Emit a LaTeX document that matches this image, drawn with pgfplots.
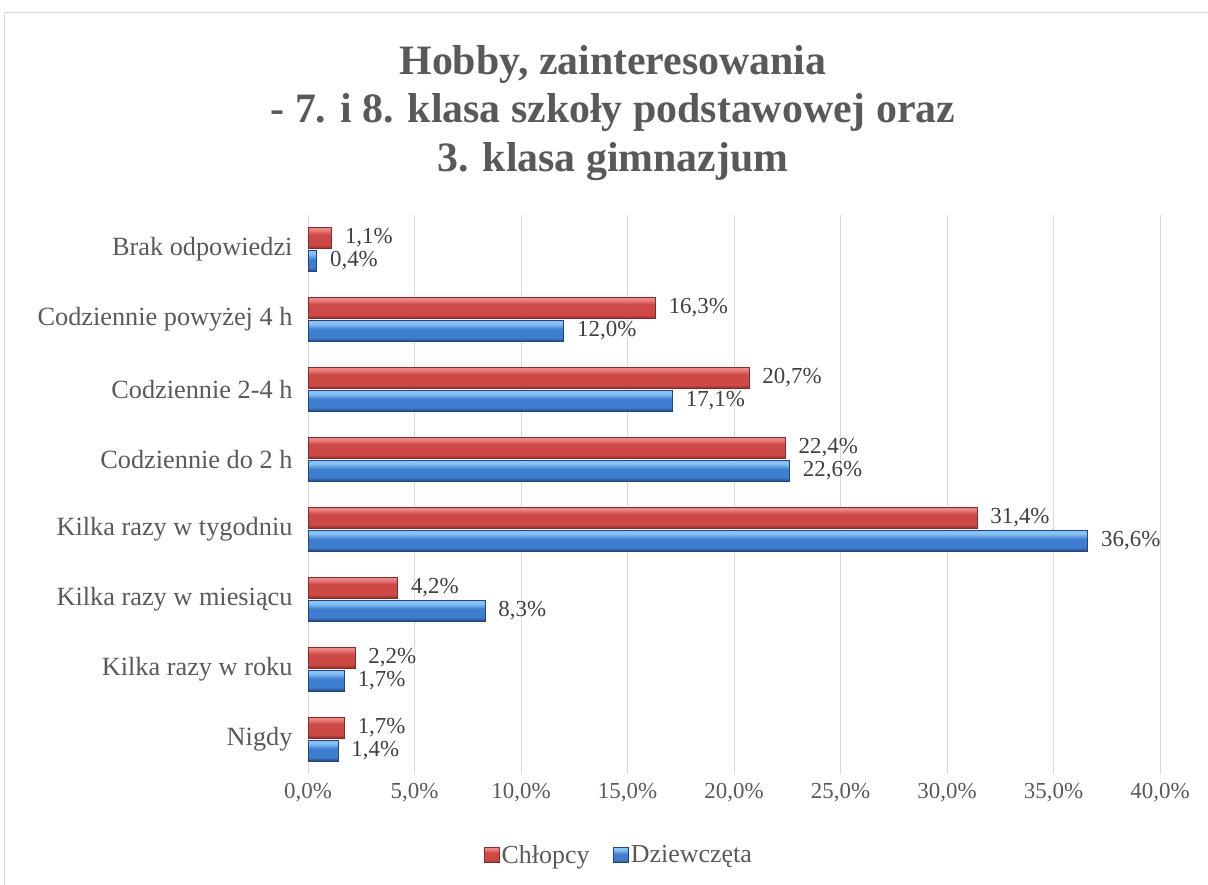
\documentclass[border=0pt]{standalone}
\usepackage{pgfplots}
\pgfplotsset{compat=1.18}
\usepackage{fontspec}
\setmainfont{Liberation Serif}
\definecolor{gridc}{HTML}{D9D9D9}
\definecolor{txt}{HTML}{595959}
\definecolor{lbl}{HTML}{404040}
\definecolor{redT}{HTML}{EC8583}
\definecolor{redM}{HTML}{CC4946}
\definecolor{redB}{HTML}{8A2A27}
\definecolor{blueT}{HTML}{86C2F6}
\definecolor{blueM}{HTML}{3E7ECE}
\definecolor{blueB}{HTML}{22467A}
\pgfdeclareverticalshading{redshade}{100bp}{color(0bp)=(redB); color(25bp)=(redB); color(33bp)=(redM); color(58bp)=(redM); color(70bp)=(redT); color(75bp)=(redT); color(100bp)=(redT)}
\pgfdeclareverticalshading{blueshade}{100bp}{color(0bp)=(blueB); color(25bp)=(blueB); color(34bp)=(blueM); color(54bp)=(blueM); color(67bp)=(blueT); color(75bp)=(blueT); color(100bp)=(blueT)}
\pgfplotsset{
  redbar/.style={bar shift=11.5bp, draw=redB, line width=0.5bp, shade, shading=redshade},
  bluebar/.style={bar shift=-11.5bp, draw=blueB, line width=0.5bp, shade, shading=blueshade},
}
\begin{document}
\begin{tikzpicture}
\path[use as bounding box] (0,0) rectangle (1208bp,-885bp);
\draw[gridc, line width=1bp] (4bp,-885bp) -- (4bp,-12bp) -- (1208bp,-12bp);
\node[align=center, text=txt, font=\fontsize{42}{49}\selectfont\bfseries] at (613bp,-113bp)
  {Hobby, zainteresowania\\- 7. i 8. klasa szkoły podstawowej oraz\\3. klasa gimnazjum};
\begin{axis}[
  at={(308bp,-774bp)}, anchor=south west,
  scale only axis, width=852bp, height=559.5bp,
  xmin=0, xmax=40, ymin=-0.5, ymax=7.5,
  xbar, bar width=21bp,
  xtick={0,5,...,40},
  xticklabel={\pgfmathprintnumber[fixed,fixed zerofill,precision=1,use comma,assume math mode=true]{\tick}\%},
  ytick={0,...,7},
  yticklabels={Nigdy, Kilka razy w roku, Kilka razy w miesiącu, Kilka razy w tygodniu, Codziennie do 2 h, Codziennie 2-4 h, Codziennie powyżej 4 h, Brak odpowiedzi},
  major tick length=0pt,
  xmajorgrids, grid style={gridc, line width=1bp},
  separate axis lines,
  x axis line style={draw=none},
  y axis line style={draw=gridc, line width=1bp},
  xticklabel style={font=\fontsize{23}{26}\selectfont, text=txt, yshift=-6bp},
  yticklabel style={font=\fontsize{26.4}{30}\selectfont, text=txt, xshift=-12bp},
  point meta=x,
  nodes near coords={\pgfmathprintnumber[fixed,fixed zerofill,precision=1,use comma,assume math mode=true]{\pgfplotspointmeta}\%},
  every node near coord/.append style={font=\fontsize{23}{26}\selectfont, text=lbl, anchor=west, xshift=10bp},
  legend columns=2,
  legend style={draw=none, at={(0.365,-0.1448)}, anchor=center, font=\fontsize{26}{30}\selectfont, text=txt,
    /tikz/every even column/.append style={column sep=22bp}},
]
% Chłopcy
\addplot[redbar,
  legend image code/.code={\shade[draw=redB, shading=redshade] (0bp,-7.5bp) rectangle (15bp,7.5bp);}]
  coordinates {(1.7,0)};
\addplot[redbar, forget plot] coordinates {(2.2,1)};
\addplot[redbar, forget plot] coordinates {(4.2,2)};
\addplot[redbar, forget plot] coordinates {(31.4,3)};
\addplot[redbar, forget plot] coordinates {(22.4,4)};
\addplot[redbar, forget plot] coordinates {(20.7,5)};
\addplot[redbar, forget plot] coordinates {(16.3,6)};
\addplot[redbar, forget plot] coordinates {(1.1,7)};
% Dziewczęta
\addplot[bluebar,
  legend image code/.code={\shade[draw=blueB, shading=blueshade] (0bp,-7.5bp) rectangle (15bp,7.5bp);}]
  coordinates {(1.4,0)};
\addplot[bluebar, forget plot] coordinates {(1.7,1)};
\addplot[bluebar, forget plot] coordinates {(8.3,2)};
\addplot[bluebar, forget plot] coordinates {(36.6,3)};
\addplot[bluebar, forget plot] coordinates {(22.6,4)};
\addplot[bluebar, forget plot] coordinates {(17.1,5)};
\addplot[bluebar, forget plot] coordinates {(12.0,6)};
\addplot[bluebar, forget plot] coordinates {(0.4,7)};
\legend{Chłopcy, Dziewczęta}
\end{axis}
\end{tikzpicture}
\end{document}
